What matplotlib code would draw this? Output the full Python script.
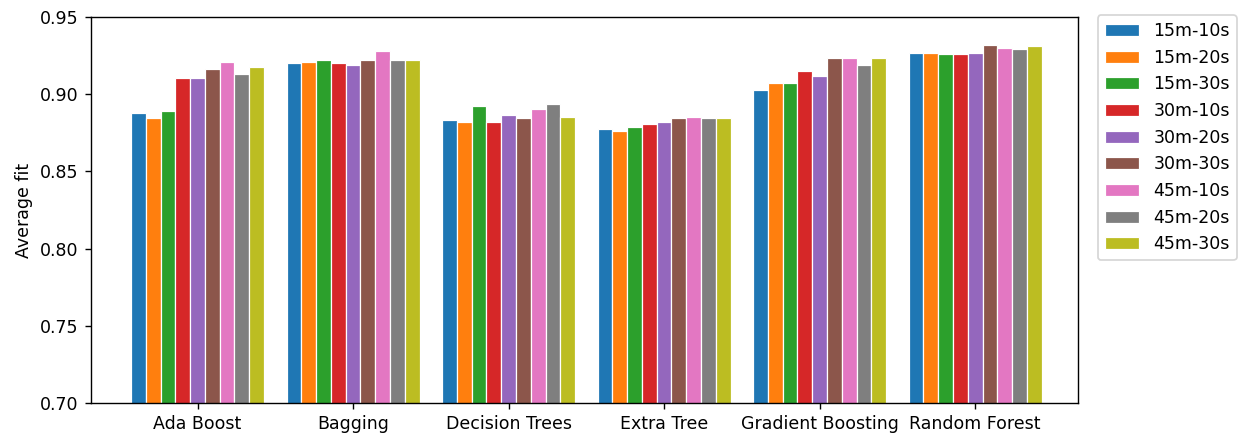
import numpy as np
import matplotlib
matplotlib.use('Agg')
import matplotlib.pyplot as plt

# Data
models = ['Ada Boost', 'Bagging', 'Decision Trees', 'Extra Tree',
          'Gradient Boosting', 'Random Forest']
configs = ['15m-10s', '15m-20s', '15m-30s', '30m-10s', '30m-20s',
           '30m-30s', '45m-10s', '45m-20s', '45m-30s']

# one list per config, values in model order
fit_15m_10s = [0.8876, 0.9200, 0.8833, 0.8775, 0.9027, 0.9269]
fit_15m_20s = [0.8844, 0.9211, 0.8822, 0.8764, 0.9073, 0.9269]
fit_15m_30s = [0.8889, 0.9222, 0.8924, 0.8786, 0.9073, 0.9258]
fit_30m_10s = [0.9107, 0.9200, 0.8822, 0.8809, 0.9152, 0.9258]
fit_30m_20s = [0.9107, 0.9187, 0.8867, 0.8820, 0.9118, 0.9269]
fit_30m_30s = [0.9165, 0.9222, 0.8844, 0.8844, 0.9233, 0.9317]
fit_45m_10s = [0.9211, 0.9278, 0.8902, 0.8854, 0.9233, 0.9301]
fit_45m_20s = [0.9131, 0.9222, 0.8935, 0.8844, 0.9187, 0.9291]
fit_45m_30s = [0.9174, 0.9222, 0.8854, 0.8844, 0.9233, 0.9315]

series = [fit_15m_10s, fit_15m_20s, fit_15m_30s,
          fit_30m_10s, fit_30m_20s, fit_30m_30s,
          fit_45m_10s, fit_45m_20s, fit_45m_30s]

fig = plt.figure(figsize=(1243 / 125, 436 / 125), dpi=125)
ax = fig.add_axes([0.0732, 0.0757, 0.7940, 0.8853])

x = np.arange(len(models))
width = 0.095
for i, (label, vals) in enumerate(zip(configs, series)):
    offset = (i - (len(configs) - 1) / 2) * width
    ax.bar(x + offset, vals, width, label=label, color='C%d' % i,
           edgecolor='white', linewidth=0.7)

ax.set_xticks(x)
ax.set_xticklabels(models)
ax.set_xlim(-0.685, 5.661)
ax.set_ylim(0.70, 0.95)
ax.set_yticks(np.arange(0.70, 0.951, 0.05))
ax.set_ylabel('Average fit')
ax.legend(loc='upper left', bbox_to_anchor=(1.02, 1.005), borderaxespad=0)

fig.savefig('out.png', dpi=125)
